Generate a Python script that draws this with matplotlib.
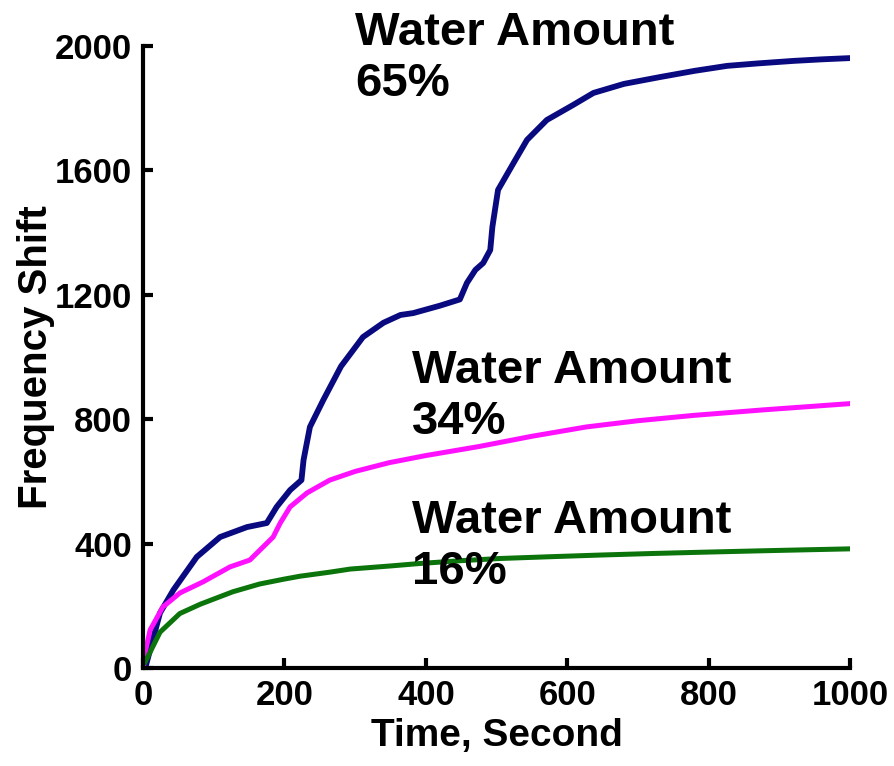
"""Frequency shift vs. time for three water contents."""

import matplotlib
matplotlib.use("Agg")
import matplotlib.pyplot as plt

plt.rcParams["font.family"] = ["Liberation Sans", "DejaVu Sans"]
plt.rcParams["font.weight"] = "bold"

# 65% water
t_65 = [5, 24, 43, 76, 109, 147, 175, 189, 208, 224, 227, 236, 255, 280, 311,
        340, 364, 382, 420, 448, 458, 470, 481, 491, 494, 502, 524, 543, 571,
        608, 637, 680, 731, 780, 826, 870, 920, 960, 1000]
f_65 = [16, 177, 251, 357, 421, 453, 466, 518, 572, 604, 669, 775, 862, 970, 1064,
        1110, 1135, 1141, 1165, 1185, 1238, 1280, 1302, 1344, 1418, 1537, 1624, 1698, 1762,
        1810, 1849, 1878, 1900, 1920, 1936, 1944, 1952, 1957, 1961]

# 34% water
t_34 = [0, 4, 10, 28, 52, 85, 123, 151, 184, 194, 208, 232, 264, 300, 348, 400,
        475, 550, 627, 700, 778, 878, 1000]
f_34 = [0, 60, 122, 196, 241, 277, 325, 347, 421, 466, 518, 563, 604, 632, 660, 683,
        712, 745, 775, 795, 812, 830, 850]

# 16% water
t_16 = [3, 24, 52, 81, 127, 165, 198, 222, 264, 293, 350, 392, 450, 505, 580,
        646, 720, 788, 880, 1000]
f_16 = [19, 115, 175, 205, 245, 270, 285, 295, 308, 318, 328, 336, 345, 352, 358,
        363, 368, 372, 377, 383]

labels = ["Water Amount\n65%", "Water Amount\n34%", "Water Amount\n16%"]

fig = plt.figure(figsize=(8.94, 7.66), dpi=100)
ax = fig.add_axes([0.16, 0.128, 0.791, 0.812])

ax.plot(t_65, f_65, color="#0a0a80", lw=4.2, solid_joinstyle="round")
ax.plot(t_34, f_34, color="#ff10ff", lw=3.6, solid_joinstyle="round")
ax.plot(t_16, f_16, color="#0b740b", lw=3.6, solid_joinstyle="round")

ax.set_xlim(0, 1000)
ax.set_ylim(0, 2000)
ax.set_xticks([0, 200, 400, 600, 800, 1000])
ax.set_yticks([0, 400, 800, 1200, 1600, 2000])

for side in ("top", "right"):
    ax.spines[side].set_visible(False)
for side in ("left", "bottom"):
    ax.spines[side].set_linewidth(3)

ax.tick_params(direction="in", length=7, width=3, labelsize=25, pad=8)
for lbl in ax.get_xticklabels() + ax.get_yticklabels():
    lbl.set_fontweight("bold")

ax.set_xlabel("Time, Second", fontsize=28, fontweight="bold", labelpad=4)
ax.set_ylabel("Frequency Shift", fontsize=29, fontweight="bold", labelpad=0)

text_pos = [(300, 2112), (380, 1024), (380, 544)]
for (x, y), txt in zip(text_pos, labels):
    ax.text(x, y, txt, fontsize=34, fontweight="bold", va="top", ha="left",
            linespacing=1.2, clip_on=False)

fig.savefig("out.png", dpi=100)
